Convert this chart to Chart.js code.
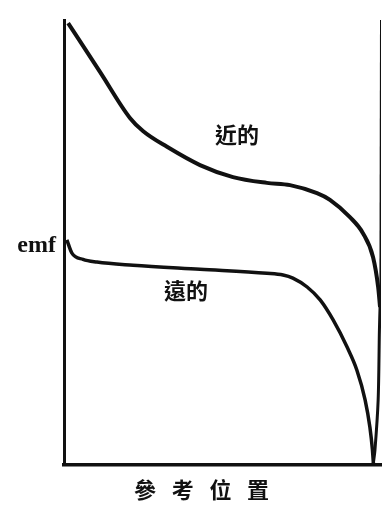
<!DOCTYPE html>
<html>
<head>
<meta charset="utf-8">
<script src="https://cdn.jsdelivr.net/npm/chart.js@4/dist/chart.umd.min.js"></script>
<style>
  body { margin: 0; background: #fff; }
  #wrap { width: 382px; height: 506px; }
</style>
</head>
<body>
<div id="wrap"><canvas id="chartEmf" width="382" height="506"></canvas></div>
<script>
// curva "近的" (reference electrode close)
const nearX = [1.3, 11.4, 20.8, 25.0, 32.5, 42.9, 53.3, 64.0, 71.3, 79.8, 83.9, 90.2, 94.3, 97.5, 99.1, 99.7];
const nearY = [99.3, 88.3, 78.0, 75.0, 71.5, 67.4, 64.7, 63.4, 62.9, 61.1, 59.6, 55.7, 52.1, 46.7, 40.0, 35.5];

// curva "遠的" (reference electrode far)
const farX = [0.9, 2.5, 6.0, 10.4, 21.8, 42.9, 64.0, 69.1, 72.2, 76.7, 80.8, 84.9, 89.3, 92.4, 95.0, 96.5, 97.3, 97.6];
const farY = [50.6, 47.6, 46.2, 45.6, 44.9, 44.0, 43.1, 42.7, 42.0, 40.0, 37.1, 32.6, 26.5, 21.3, 14.6, 8.5, 3.4, 0.4];

// borda direita do quadro
const edgeTopX = [100, 99.8];
const edgeTopY = [100, 35.5];
const edgeLowX = [99.7, 99.5, 99.1, 98.1, 97.5];
const edgeLowY = [35.5, 30.3, 14.6, 3.4, 0];

// textos
const nearLabel = '近的';
const farLabel = '遠的';
const yTitle = 'emf';
const xTitle = ['參', '考', '位', '置'];

function pontos(xs, ys) {
    return xs.map((x, i) => ({ x: x, y: ys[i] }));
}

const textos = {
    id: 'textos',
    afterDraw(chart) {
        const ctx = chart.ctx;
        const sx = chart.scales.x;
        const sy = chart.scales.y;
        ctx.save();
        ctx.fillStyle = '#111';
        ctx.textBaseline = 'middle';
        ctx.textAlign = 'center';
        ctx.font = 'bold 22px "Noto Sans CJK TC"';
        ctx.fillText(nearLabel, sx.getPixelForValue(54.6), sy.getPixelForValue(74.2));
        ctx.fillText(farLabel, sx.getPixelForValue(38.5), sy.getPixelForValue(39.1));

        xTitle.forEach((c, i) => {
            ctx.fillText(c, 145 + i * 37.7, 490);
        });

        ctx.textAlign = 'right';
        ctx.font = 'bold 24px "Liberation Serif"';
        ctx.fillText(yTitle, 56, 246);
        ctx.restore();
    }
};

const linha = { showLine: true, pointRadius: 0, fill: false, borderColor: '#111' };

new Chart(document.getElementById('chartEmf').getContext('2d'), {
    type: 'scatter',
    data: {
        datasets: [
            Object.assign({ data: pontos(nearX, nearY), borderWidth: 4, cubicInterpolationMode: 'monotone' }, linha),
            Object.assign({ data: pontos(farX, farY), borderWidth: 3.5, cubicInterpolationMode: 'monotone' }, linha),
            Object.assign({ data: pontos(edgeTopX, edgeTopY), borderWidth: 2, tension: 0 }, linha),
            Object.assign({ data: pontos(edgeLowX, edgeLowY), borderWidth: 3, tension: 0.3 }, linha)
        ]
    },
    options: {
        responsive: false,
        animation: false,
        layout: { padding: { left: 64, right: 1, top: 20, bottom: 41 } },
        plugins: { legend: { display: false }, tooltip: { enabled: false } },
        scales: {
            x: {
                type: 'linear', min: 0, max: 100,
                ticks: { display: false },
                grid: { display: false, drawTicks: false },
                border: { display: true, color: '#111', width: 3.5 }
            },
            y: {
                type: 'linear', min: 0, max: 100,
                ticks: { display: false },
                grid: { display: false, drawTicks: false },
                border: { display: true, color: '#111', width: 3 }
            }
        }
    },
    plugins: [textos]
});
</script>
</body>
</html>
